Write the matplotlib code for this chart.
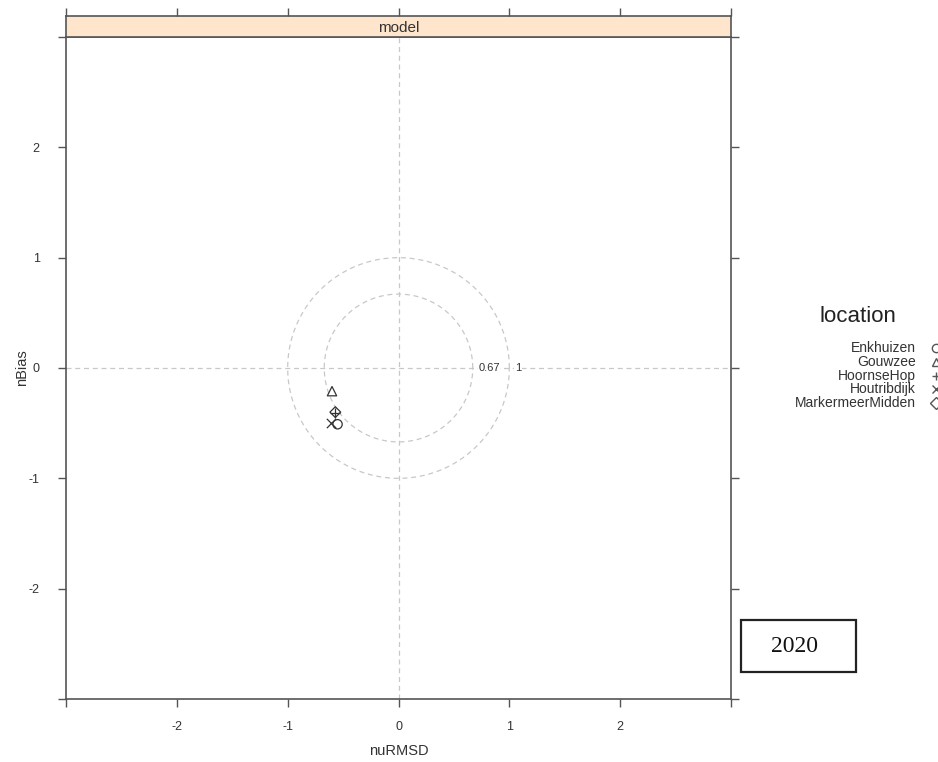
import numpy as np
import matplotlib.pyplot as plt
from matplotlib.patches import Rectangle

plt.rcParams["font.family"] = ["Liberation Sans", "DejaVu Sans"]

# target diagram values per location
locations = ["Enkhuizen", "Gouwzee", "HoornseHop", "Houtribdijk", "MarkermeerMidden"]
nurmsd = [-0.55, -0.60, -0.57, -0.61, -0.57]
nbias = [-0.51, -0.21, -0.41, -0.50, -0.40]
markers = ["o", "^", "+", "x", "D"]
radii = [0.67, 1.0]
ticks = [-3, -2, -1, 0, 1, 2, 3]

W, H = 938, 762
fig = plt.figure(figsize=(W / 100, H / 100), dpi=100)
ax = fig.add_axes([66 / W, 1 - 699 / H, (731 - 66) / W, (699 - 37) / H])

FRAME = "#555555"
GRID = "#c8c8c8"
TXT = "#333333"

ax.set_xlim(-3, 3)
ax.set_ylim(-3, 3)

ax.axhline(0, color=GRID, linestyle=(0, (4, 3)), linewidth=0.9, zorder=1)
ax.axvline(0, color=GRID, linestyle=(0, (4, 3)), linewidth=0.9, zorder=1)
th = np.linspace(0, 2 * np.pi, 400)
for r in radii:
    ax.plot(r * np.cos(th), r * np.sin(th), color=GRID,
            linestyle=(0, (4, 3)), linewidth=0.9, zorder=1)
    ax.text(r + 0.05, 0, f"{r:g}", fontsize=8, color=TXT,
            ha="left", va="center", zorder=2,
            bbox=dict(facecolor="white", edgecolor="none", pad=0.5))

for x, y, m in zip(nurmsd, nbias, markers):
    filled = m in ("+", "x")
    ax.scatter(x, y, marker=m, s=45 if m != "D" else 30,
               facecolors=TXT if filled else "none",
               edgecolors=TXT, linewidths=0.9, zorder=3)

labels = ["" if abs(t) == 3 else str(t) for t in ticks]
ax.set_xticks(ticks)
ax.set_xticklabels(labels)
ax.set_yticks(ticks)
ax.set_yticklabels(labels)
ax.tick_params(direction="out", length=6, width=1, color=FRAME,
               labelsize=9, labelcolor=TXT,
               top=False, right=True, labeltop=False, labelright=False)
ax.tick_params(axis="x", pad=10)
ax.tick_params(axis="y", pad=13)
for s in ax.spines.values():
    s.set_color(FRAME)
    s.set_linewidth(1.2)

ax.set_xlabel("nuRMSD", fontsize=10.5, color=TXT, labelpad=8)
ax.set_ylabel("nBias", fontsize=10.5, color=TXT, labelpad=0)

# strip above the panel, carrying the top ticks
strip = fig.add_axes([66 / W, 1 - 37 / H, (731 - 66) / W, 21 / H])
strip.set_facecolor("#ffe5cc")
strip.set_xlim(-3, 3)
strip.set_xticks(ticks)
strip.set_yticks([])
strip.tick_params(axis="x", direction="out", length=6, width=1, color=FRAME,
                  top=True, bottom=False, labeltop=False, labelbottom=False)
for s in strip.spines.values():
    s.set_color(FRAME)
    s.set_linewidth(1.2)
strip.text(0.5, 0.45, "model", ha="center", va="center",
           fontsize=11, color=TXT, transform=strip.transAxes)

# legend drawn by hand at the right edge
fig.text(858 / W, 1 - 316 / H, "location", ha="center", va="center",
         fontsize=16, color="#222222")
for i, (name, m) in enumerate(zip(locations, markers)):
    yy = 1 - (348 + i * 13.8) / H
    fig.text(916 / W, yy, name, ha="right", va="center",
             fontsize=10, color=TXT)
    filled = m in ("+", "x")
    fig.add_artist(plt.Line2D([936 / W], [yy], marker=m, markersize=6,
                              markerfacecolor="#555555" if filled else "none",
                              markeredgecolor="#555555", linestyle="none",
                              transform=fig.transFigure))

# year box
fig.add_artist(Rectangle((741 / W, 1 - 672 / H), 115 / W, 52 / H,
                         transform=fig.transFigure, facecolor="white",
                         edgecolor="#222222", linewidth=1.6))
fig.text(794 / W, 1 - 647 / H, "2020", ha="center", va="center",
         fontsize=17, family="Liberation Serif", color="#111111")

fig.savefig("out.png", dpi=100)
